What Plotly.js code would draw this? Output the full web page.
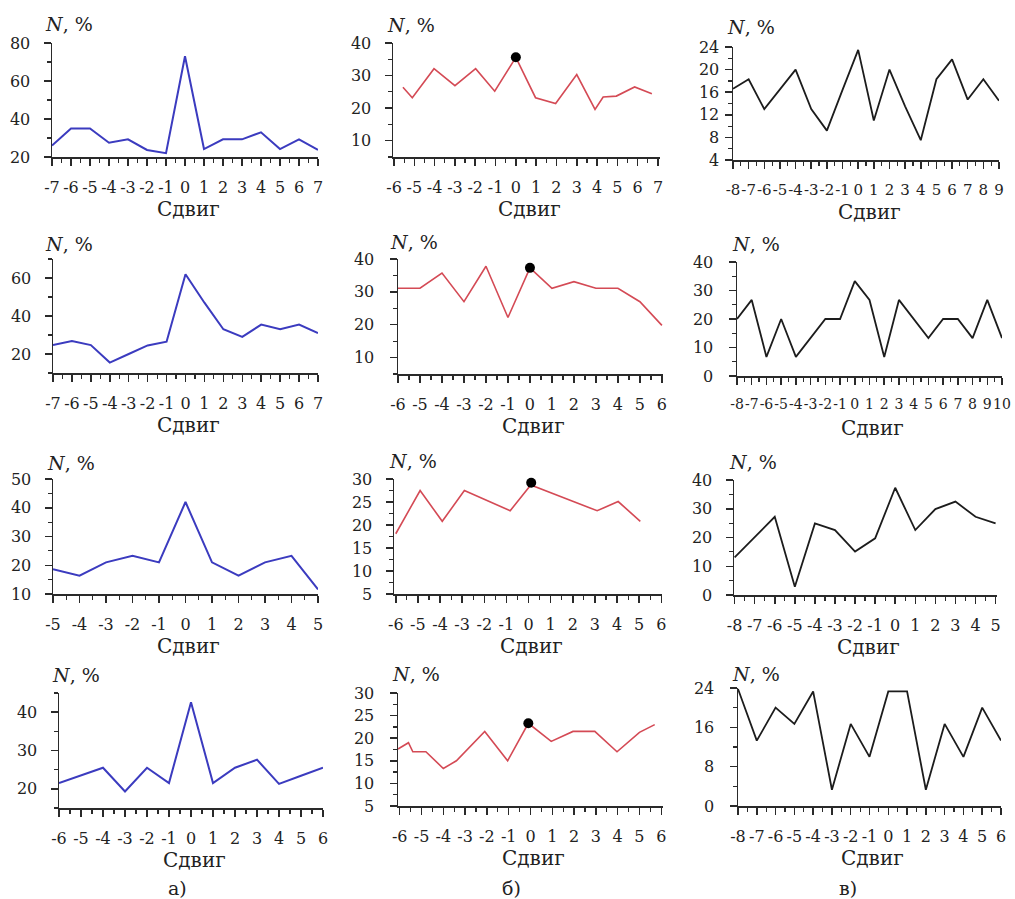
<!DOCTYPE html>
<html><head><meta charset="utf-8">
<script src="https://cdn.plot.ly/plotly-3.0.1.min.js"></script>
<style>body{margin:0;background:#fff}#c{width:1015px;height:899px}</style>
</head><body><div id="c"></div>
<script>
// ---- data (column а: blue) ----
const a1x = [-7,-6,-5,-4,-3,-2,-1,0,1,2,3,4,5,6,7];
const a1y = [26,35,35,27.5,29.3,23.7,22,73,24.2,29.3,29.3,33,24.2,29.3,23.7];
const a2x = [-7,-6,-5,-4,-3,-2,-1,0,1,2,3,4,5,6,7];
const a2y = [24.7,26.8,24.7,15.5,20,24.5,26.5,62,47,33,29,35.5,33,35.5,31];
const a3x = [-5,-4,-3,-2,-1,0,1,2,3,4,5];
const a3y = [18.6,16.4,21,23.3,21,42,21,16.4,21,23.3,11.6];
const a4x = [-6,-5,-4,-3,-2,-1,0,1,2,3,4,5,6];
const a4y = [21.5,23.5,25.5,19.3,25.5,21.5,42.6,21.5,25.5,27.6,21.3,23.4,25.5];
// ---- column б: red, with black peak dot ----
const b1x = [-5.56,-5.1,-4.03,-3.0,-1.98,-1.04,0,0.97,1.96,3.0,3.9,4.3,4.95,5.85,6.7];
const b1y = [26.4,23.2,32.1,26.9,32.1,25.2,35.6,23.2,21.4,30.3,19.6,23.4,23.7,26.5,24.4];
const b1px = [0], b1py = [35.6];
const b2x = [-6,-5,-4,-3,-2,-1,0,1,2,3,4,5,6];
const b2y = [31.1,31.1,35.7,27,37.8,22.2,37.3,31.1,33.1,31.1,31.1,27,19.8];
const b2px = [0], b2py = [37.3];
const b3x = [-6,-4.9,-3.9,-2.9,-0.83,0.1,3.1,4.05,5.05];
const b3y = [18.1,27.5,20.8,27.5,23.1,28.7,23.1,25.1,20.8];
const b3px = [0.12], b3py = [29.2];
const b4x = [-6.08,-5.6,-5.4,-4.8,-4.0,-3.4,-2.1,-1.05,-0.1,0.95,1.95,2.95,3.97,5.0,5.7];
const b4y = [17.6,19.0,17.0,17.0,13.3,15.0,21.5,15.0,23.3,19.3,21.5,21.5,17.0,21.3,23.0];
const b4px = [-0.1], b4py = [23.3];
// ---- column в: black ----
const c1x = [-8,-7,-6,-5,-4,-3,-2,-1,0,1,2,3,4,5,6,7,8,9];
const c1y = [16.6,18.3,13,16.5,20,13,9.2,16.4,23.5,11,20,13.5,7.5,18.3,21.8,14.7,18.3,14.5];
const c2x = [-8,-7,-6,-5,-4,-3,-2,-1,0,1,2,3,4,5,6,7,8,9,10];
const c2y = [20,26.7,6.7,20,6.7,13.3,20,20,33.3,26.7,6.7,26.7,20,13.3,20,20,13.3,26.7,13.3];
const c3x = [-8,-7,-6,-5,-4,-3,-2,-1,0,1,2,3,4,5];
const c3y = [13.1,20.2,27.2,2.9,24.9,22.6,15.1,19.7,37.3,22.6,29.9,32.5,27.2,24.9];
const c4x = [-8,-7,-6,-5,-4,-3,-2,-1,0,1,2,3,4,5,6];
const c4y = [23.8,13.3,20,16.7,23.3,3.3,16.7,10,23.3,23.3,3.3,16.7,10,20,13.3];

// ---- x tick values (shift labels) ----
const xtA1 = [-7,-6,-5,-4,-3,-2,-1,0,1,2,3,4,5,6,7];
const xtA2 = [-7,-6,-5,-4,-3,-2,-1,0,1,2,3,4,5,6,7];
const xtA3 = [-5,-4,-3,-2,-1,0,1,2,3,4,5];
const xtA4 = [-6,-5,-4,-3,-2,-1,0,1,2,3,4,5,6];
const xtB1 = [-6,-5,-4,-3,-2,-1,0,1,2,3,4,5,6,7];
const xtB2 = [-6,-5,-4,-3,-2,-1,0,1,2,3,4,5,6];
const xtB3 = [-6,-5,-4,-3,-2,-1,0,1,2,3,4,5,6];
const xtB4 = [-6,-5,-4,-3,-2,-1,0,1,2,3,4,5,6];
const xtC1 = [-8,-7,-6,-5,-4,-3,-2,-1,0,1,2,3,4,5,6,7,8,9];
const xtC2 = [-8,-7,-6,-5,-4,-3,-2,-1,0,1,2,3,4,5,6,7,8,9,10];
const xtC3 = [-8,-7,-6,-5,-4,-3,-2,-1,0,1,2,3,4,5];
const xtC4 = [-8,-7,-6,-5,-4,-3,-2,-1,0,1,2,3,4,5,6];

const yTitle = '<i>N</i>, %';
const xTitle = 'Сдвиг';
const panelLetters = ['а)','б)','в)'];

// ---- layout / style ----
const W = 1015, H = 899;
const FONT = 'DejaVu Serif, serif';
const colColor = {a:'#3b3bbf', b:'#d44a55', c:'#1c1c1c'};
const colWidth = {a:2, b:1.6, c:1.8};
const panels = [
 {x:a1x,y:a1y,xt:xtA1,col:'a',xd:[52,318],yd:[43,157],xr:[-7,7],yr:[20,80],dt:20,mn:10,so:10,fs:16,nt:[43,24]},
 {x:a2x,y:a2y,xt:xtA2,col:'a',xd:[53,318],yd:[259,373],xr:[-7,7],yr:[10,70],dt:20,mn:10,so:10,fs:16,nt:[43,244]},
 {x:a3x,y:a3y,xt:xtA3,col:'a',xd:[53,318],yd:[479,594],xr:[-5,5],yr:[10,50],dt:10,mn:5,so:10,fs:16,nt:[45,463]},
 {x:a4x,y:a4y,xt:xtA4,col:'a',xd:[59,323],yd:[693,808],xr:[-6,6],yr:[15,45],dt:10,mn:5,so:10,fs:16,nt:[50,675]},
 {x:b1x,y:b1y,xt:xtB1,px:b1px,py:b1py,col:'b',xd:[393,660],yd:[43,157],xr:[-6.05,7.1],yr:[5,40],dt:10,mn:5,so:10,fs:16,nt:[385,25]},
 {x:b2x,y:b2y,xt:xtB2,px:b2px,py:b2py,col:'b',xd:[398,663],yd:[259,374],xr:[-6,6.05],yr:[5,40],dt:10,mn:5,so:12,fs:16,nt:[388,242]},
 {x:b3x,y:b3y,xt:xtB3,px:b3px,py:b3py,col:'b',xd:[394,662],yd:[479,594],xr:[-6.08,6.03],yr:[5,30],dt:5,mn:2.5,so:10,fs:16,nt:[387,461]},
 {x:b4x,y:b4y,xt:xtB4,px:b4px,py:b4py,col:'b',xd:[398,663],yd:[693,806],xr:[-6.08,6.08],yr:[5,30],dt:5,mn:2.5,so:12,fs:16,nt:[390,674]},
 {x:c1x,y:c1y,xt:xtC1,col:'c',xd:[733,999],yd:[47,160],xr:[-8,9],yr:[4,24],dt:4,mn:2,so:2,fs:15,nt:[725,27]},
 {x:c2x,y:c2y,xt:xtC2,col:'c',xd:[737,1002],yd:[262,376],xr:[-8,10],yr:[0,40],dt:10,mn:5,so:12,fs:14,nt:[730,244]},
 {x:c3x,y:c3y,xt:xtC3,col:'c',xd:[734,997],yd:[480,595],xr:[-8.03,5.07],yr:[0,40],dt:10,mn:5,so:10,fs:16,nt:[727,462]},
 {x:c4x,y:c4y,xt:xtC4,col:'c',xd:[738,1001],yd:[688,806],xr:[-8,6],yr:[0,24],dt:8,mn:4,so:12,fs:16,nt:[730,674]}
];
const letterPos = [[177,888],[512,888],[848,888]];

const px2x = p => p / W;
const px2y = p => 1 - p / H;

const data = [];
const layout = {
  width: W, height: H, margin:{l:0,r:0,t:0,b:0},
  paper_bgcolor:'#fff', plot_bgcolor:'rgba(0,0,0,0)', showlegend:false,
  font:{family:FONT, color:'#222'}, annotations:[]
};
panels.forEach((p,i)=>{
  const n = i+1, xs = n===1?'':String(n);
  const xref = 'x'+xs, yref = 'y'+xs;
  data.push({x:p.x, y:p.y, xaxis:xref, yaxis:yref, type:'scatter', mode:'lines',
    line:{color:colColor[p.col], width:colWidth[p.col]}, hoverinfo:'skip', cliponaxis:false});
  if (p.px) data.push({x:p.px, y:p.py, xaxis:xref, yaxis:yref, type:'scatter', mode:'markers',
    marker:{color:'#000', size:10}, hoverinfo:'skip', cliponaxis:false});
  const common = {showgrid:false, zeroline:false, showline:true, linecolor:'#2a2a2a', linewidth:1.5,
    ticks:'outside', ticklen:7, tickwidth:1.5, tickcolor:'#2a2a2a', tickangle:0, fixedrange:true};
  layout['xaxis'+xs] = Object.assign({}, common, {
    domain:[px2x(p.xd[0]), px2x(p.xd[1])], range:p.xr, anchor:yref,
    tickmode:'array', tickvals:p.xt, ticktext:p.xt.map(v => String(v)), ticklabelstandoff:8,
    tickfont:{family:FONT, size:p.fs, color:'#222'},
    minor:{tickmode:'linear', dtick:0.5, tick0:0, ticks:'outside', ticklen:4, tickwidth:1.2, tickcolor:'#2a2a2a', showgrid:false}
  });
  layout['yaxis'+xs] = Object.assign({}, common, {
    domain:[px2y(p.yd[1]), px2y(p.yd[0])], range:p.yr, anchor:xref,
    tickmode:'linear', tick0:0, dtick:p.dt, ticklabelstandoff:p.so,
    tickfont:{family:FONT, size:16, color:'#222'},
    minor:{tickmode:'linear', dtick:p.mn, tick0:0, ticks:'outside', ticklen:4, tickwidth:1.2, tickcolor:'#2a2a2a', showgrid:false}
  });
  const xcen = (p.xd[0] + p.xd[1]) / 2 + 3;
  layout.annotations.push({xref:'paper', yref:'paper', x:px2x(p.nt[0]), y:px2y(p.nt[1]),
    xanchor:'left', yanchor:'middle', text:yTitle, showarrow:false, font:{family:FONT, size:19, color:'#222'}});
  layout.annotations.push({xref:'paper', yref:'paper', x:px2x(xcen), y:px2y(p.yd[1] + 52),
    xanchor:'center', yanchor:'middle', text:xTitle, showarrow:false, font:{family:FONT, size:20, color:'#222'}});
});
panelLetters.forEach((t,i)=>{
  layout.annotations.push({xref:'paper', yref:'paper', x:px2x(letterPos[i][0]), y:px2y(letterPos[i][1]),
    xanchor:'center', yanchor:'middle', text:t, showarrow:false, font:{family:FONT, size:19, color:'#222'}});
});
Plotly.newPlot('c', data, layout, {staticPlot:true, displayModeBar:false});
</script></body></html>
